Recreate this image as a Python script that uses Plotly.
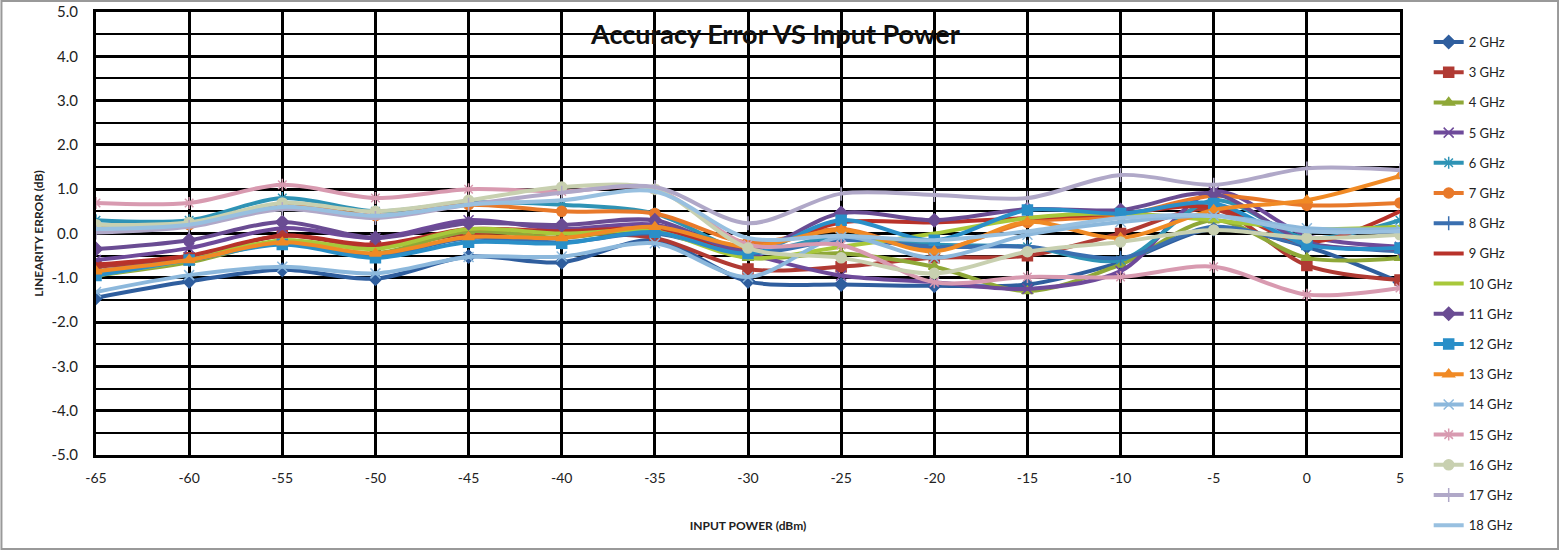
import plotly.graph_objects as go

input_power = [-65, -60, -55, -50, -45, -40, -35, -30, -25, -20, -15, -10, -5, 0, 5]
y_ticks = [-5.0, -4.0, -3.0, -2.0, -1.0, 0.0, 1.0, 2.0, 3.0, 4.0, 5.0]

series_names = ["2 GHz", "3 GHz", "4 GHz", "5 GHz", "6 GHz", "7 GHz", "8 GHz", "9 GHz", "10 GHz",
                "11 GHz", "12 GHz", "13 GHz", "14 GHz", "15 GHz", "16 GHz", "17 GHz", "18 GHz"]

ghz2 = [-1.45, -1.08, -0.82, -1.02, -0.52, -0.65, -0.15, -1.08, -1.15, -1.18, -1.15, -0.65, 0.10, -0.30, -1.10]
ghz3 = [-0.75, -0.55, -0.05, -0.30, 0.00, 0.00, -0.10, -0.80, -0.75, -0.55, -0.50, 0.00, 0.55, -0.72, -1.05]
ghz4 = [-0.95, -0.65, -0.20, -0.45, 0.05, -0.10, 0.10, -0.55, -0.45, -0.75, -1.30, -0.70, 0.30, -0.55, -0.55]
ghz5 = [-0.60, -0.33, 0.12, -0.10, 0.30, 0.10, 0.20, -0.45, -0.95, -1.10, -1.25, -0.85, 0.95, -0.05, -0.30]
ghz6 = [0.30, 0.30, 0.80, 0.50, 0.70, 0.65, 0.45, -0.40, -0.05, -0.25, -0.30, -0.60, 0.75, -0.10, 0.30]
ghz7 = [0.15, 0.20, 0.65, 0.40, 0.65, 0.50, 0.45, -0.20, 0.10, -0.37, 0.25, 0.40, 0.85, 0.64, 0.69]
ghz8 = [-0.85, -0.60, -0.20, -0.50, -0.10, -0.20, 0.00, -0.45, -0.15, -0.30, -0.30, -0.55, 0.15, -0.25, -0.40]
ghz9 = [-0.70, -0.50, -0.05, -0.25, 0.10, 0.05, 0.10, -0.35, 0.25, 0.25, 0.35, 0.45, 0.60, -0.20, 0.50]
ghz10 = [-0.95, -0.60, -0.15, -0.35, 0.10, 0.00, 0.05, -0.55, -0.30, 0.00, 0.35, 0.45, 0.30, 0.10, 0.15]
ghz11 = [-0.35, -0.15, 0.26, -0.10, 0.23, 0.19, 0.30, -0.40, 0.46, 0.30, 0.55, 0.53, 0.90, -0.20, -0.35]
ghz12 = [-0.95, -0.60, -0.25, -0.55, -0.20, -0.22, 0.03, -0.45, 0.30, -0.15, 0.53, 0.45, 0.68, -0.25, -0.33]
ghz13 = [-0.85, -0.60, -0.20, -0.45, -0.08, -0.10, 0.15, -0.30, 0.08, -0.40, 0.26, -0.10, 0.53, 0.75, 1.30]
ghz14 = [-1.32, -0.94, -0.75, -0.90, -0.53, -0.52, -0.22, -0.98, -0.08, -0.55, -0.03, 0.26, 0.40, 0.12, 0.10]
ghz15 = [0.69, 0.69, 1.10, 0.80, 1.00, 0.95, 1.00, -0.25, -0.26, -1.10, -0.98, -0.98, -0.75, -1.38, -1.23]
ghz16 = [0.20, 0.25, 0.69, 0.50, 0.75, 1.05, 1.00, -0.33, -0.55, -0.90, -0.41, -0.19, 0.08, -0.10, -0.03]
ghz17 = [0.02, 0.15, 0.55, 0.35, 0.65, 0.92, 1.05, 0.23, 0.90, 0.87, 0.80, 1.32, 1.10, 1.47, 1.43]
ghz18 = [0.10, 0.20, 0.60, 0.40, 0.65, 0.75, 0.95, -0.10, -0.05, -0.15, 0.05, 0.35, 0.40, 0.05, 0.05]

series_values = [ghz2, ghz3, ghz4, ghz5, ghz6, ghz7, ghz8, ghz9, ghz10,
                 ghz11, ghz12, ghz13, ghz14, ghz15, ghz16, ghz17, ghz18]

colors = ["#2F5E9E", "#B03A33", "#8FA838", "#6E4A9A", "#2E93B5", "#E8792A", "#3A6FB0", "#B8322A",
          "#A8C83A", "#6A4C93", "#2A8FC8", "#F08A25", "#8CB8DC", "#D89AB0", "#C8D0B0", "#B0A8C8", "#98C0E0"]
symbols = ["diamond", "square", "triangle-up", "x-thin-open", "asterisk-open", "circle", "line-ns-open",
           None, None, "diamond", "square", "triangle-up", "x-thin-open", "asterisk-open", "circle",
           "line-ns-open", None]

fig = go.Figure()
for i, (name, vals) in enumerate(zip(series_names, series_values)):
    sym = symbols[i]
    marker = dict(color=colors[i], size=10, symbol=sym if sym else "circle",
                  line=dict(color=colors[i], width=1.5))
    fig.add_trace(go.Scatter(
        x=input_power, y=vals, name=name, legendgroup=name,
        mode="lines+markers" if sym else "lines",
        line=dict(color=colors[i], width=4, shape="spline", smoothing=0.9),
        marker=marker,
    ))

fontfam = "Lato, Open Sans, sans-serif"
fig.update_layout(
    width=1559, height=550,
    margin=dict(l=96, r=159, t=12, b=95),
    paper_bgcolor="white", plot_bgcolor="white",
    font=dict(family=fontfam, size=14, color="#222"),
    showlegend=True,
    legend=dict(x=1.022, y=0.966, xanchor="left", yanchor="top",
                font=dict(size=13, color="#222"), tracegroupgap=10.3,
                maxheight=560, bgcolor="rgba(0,0,0,0)"),
    xaxis=dict(range=[-65, 5], tickmode="array", tickvals=input_power,
               ticktext=[str(v) for v in input_power],
               showgrid=True, gridcolor="black", gridwidth=3,
               zeroline=False, showline=True, linecolor="black", linewidth=3,
               mirror=True, ticks="", tickfont=dict(size=14), ticklabelstandoff=8,
               automargin=False,
               title=dict(text="<b>INPUT POWER (dBm)</b>", font=dict(size=12), standoff=37)),
    yaxis=dict(range=[-5, 5], tickmode="array", tickvals=y_ticks,
               ticktext=["%.1f" % v for v in y_ticks],
               showgrid=True, gridcolor="black", gridwidth=3,
               minor=dict(tickmode="array", tickvals=[v + 0.5 for v in y_ticks[:-1]],
                          showgrid=True, gridcolor="black", gridwidth=2),
               zeroline=False, showline=True, linecolor="black", linewidth=3,
               mirror=True, ticks="", tickfont=dict(size=15), ticklabelstandoff=12,
               automargin=False,
               title=dict(text="<b>LINEARITY ERROR (dB)</b>", font=dict(size=12), standoff=6)),
    annotations=[dict(text="<b>Accuracy Error VS Input Power</b>", x=0.521, y=0.952,
                      xref="paper", yref="paper", xanchor="center", yanchor="middle",
                      showarrow=False, font=dict(size=27, color="#111", family=fontfam))],
    shapes=[dict(type="rect", xref="paper", yref="paper",
                 x0=-0.0725, x1=1.1212, y0=-0.2122, y1=1.0248,
                 line=dict(color="#999", width=2), layer="below")],
)

fig.write_html("out.html", config={"displayModeBar": False},
               post_script="document.body.style.margin='0';document.body.style.overflow='hidden';")
